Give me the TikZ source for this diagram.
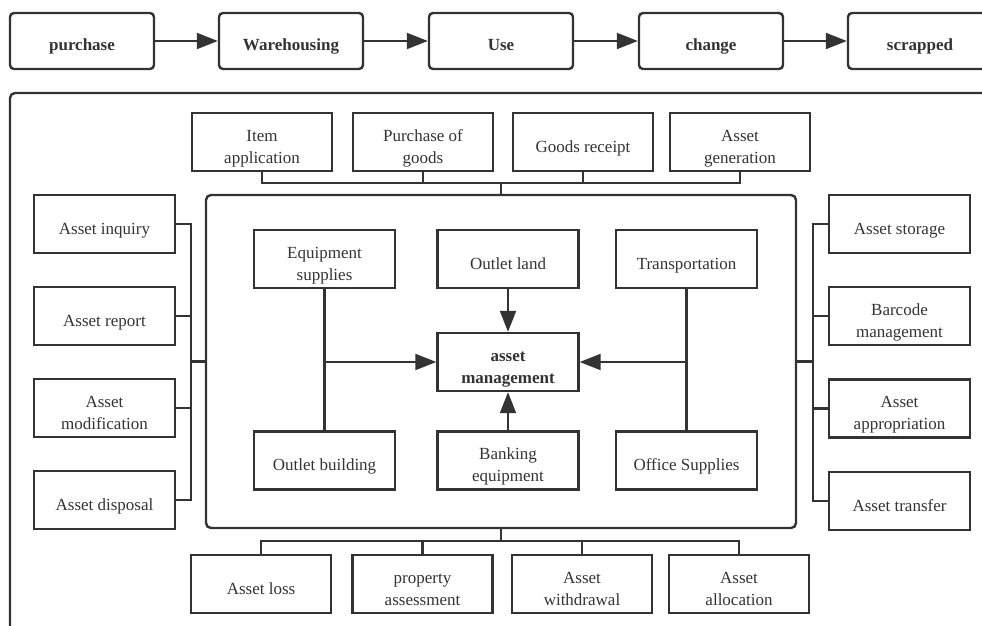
\documentclass[tikz,border=0pt]{standalone}
\usepackage{fontspec}
\setmainfont{Liberation Serif}
\usetikzlibrary{arrows.meta}
\definecolor{ink}{HTML}{333333}
\newcommand\hs{\rule{0pt}{24pt}}
\newcommand\ds{\rule[-4pt]{0pt}{4pt}}
\tikzset{
  box/.style={draw=ink, line width=2.4pt, minimum width=141pt, minimum height=58pt,
    inner sep=0pt, align=center, text=ink, font=\fontsize{17}{22}\selectfont},
  topbox/.style={box, rounded corners=4pt, minimum width=144pt, minimum height=56pt,
    font=\fontsize{17}{22}\selectfont\bfseries},
  link/.style={draw=ink, line width=2.2pt},
  arr/.style={link, -{Triangle[length=21pt,width=16pt]}}
}
\begin{document}
\begin{tikzpicture}[x=1pt,y=-1pt]
\useasboundingbox (0,0) rectangle (982,626);
\clip (0,0) rectangle (982,626);
% top process row
\node[topbox] (pur) at (82,41) {\hs purchase\ds};
\node[topbox] (war) at (291,41) {\hs Warehousing\ds};
\node[topbox] (use) at (501,41) {\hs Use\ds};
\node[topbox] (chg) at (711,41) {\hs change\ds};
\node[topbox] (scr) at (920,41) {\hs scrapped\ds};
\draw[arr] (pur) -- (war);
\draw[arr] (war) -- (use);
\draw[arr] (use) -- (chg);
\draw[arr] (chg) -- (scr);
% outer frame (partially outside the picture)
\draw[draw=ink, line width=2.4pt, rounded corners=5pt] (10,640) -- (10,93) -- (1000,93);
% inner frame
\node[draw=ink, line width=2.4pt, rounded corners=5pt, minimum width=590pt, minimum height=333pt, inner sep=0pt] (inner) at (501,361.5) {};
% top row
\node[box, minimum width=140pt] (itm) at (262,142) {\hs Item\\application\ds};
\node[box, minimum width=140pt] (pog) at (423,142) {\hs Purchase of\\goods\ds};
\node[box, minimum width=140pt] (gr) at (583,142) {\hs Goods receipt\ds};
\node[box, minimum width=140pt] (gen) at (740,142) {\hs Asset\\generation\ds};
\coordinate (tb) at (501,183);
\draw[link] (itm.south) |- (tb);
\draw[link] (pog.south) |- (tb);
\draw[link] (gr.south) |- (tb);
\draw[link] (gen.south) |- (tb);
\draw[link] (tb) -- (inner.north);
% left column
\node[box] (inq) at (104.5,224) {\hs Asset inquiry\ds};
\node[box] (rep) at (104.5,316) {\hs Asset report\ds};
\node[box] (mod) at (104.5,408) {\hs Asset\\modification\ds};
\node[box] (dis) at (104.5,500) {\hs Asset disposal\ds};
\coordinate (lj) at (191,361.5);
\draw[link] (inq.east) -| (lj);
\draw[link] (rep.east) -| (lj);
\draw[link] (mod.east) -| (lj);
\draw[link] (dis.east) -| (lj);
\draw[link] (lj) -- (inner.west);
% right column
\node[box] (sto) at (899.5,224) {\hs Asset storage\ds};
\node[box] (bar) at (899.5,316) {\hs Barcode\\management\ds};
\node[box] (app) at (899.5,408.5) {\hs Asset\\appropriation\ds};
\node[box] (tra) at (899.5,501) {\hs Asset transfer\ds};
\coordinate (rj) at (813,361.5);
\draw[link] (sto.west) -| (rj);
\draw[link] (bar.west) -| (rj);
\draw[link] (app.west) -| (rj);
\draw[link] (tra.west) -| (rj);
\draw[link] (rj) -- (inner.east);
% bottom row
\node[box, minimum width=140pt] (los) at (261,584) {\hs Asset loss\ds};
\node[box, minimum width=140pt] (pas) at (422.5,584) {\hs property\\assessment\ds};
\node[box, minimum width=140pt] (wit) at (582,584) {\hs Asset\\withdrawal\ds};
\node[box, minimum width=140pt] (all) at (739,584) {\hs Asset\\allocation\ds};
\coordinate (bb) at (501,541);
\draw[link] (inner.south) -- (bb);
\draw[link] (bb) -| (los.north);
\draw[link] (bb) -| (pas.north);
\draw[link] (bb) -| (wit.north);
\draw[link] (bb) -| (all.north);
% inner content
\node[box] (eq) at (324.5,259) {\hs Equipment\\supplies\ds};
\node[box] (ol) at (508,259) {\hs Outlet land\ds};
\node[box] (tr) at (686.5,259) {\hs Transportation\ds};
\node[box, font=\fontsize{17}{22}\selectfont\bfseries] (am) at (508,362) {\hs asset\\management\ds};
\node[box] (ob) at (324.5,460.5) {\hs Outlet building\ds};
\node[box] (be) at (508,460.5) {\hs Banking\\equipment\ds};
\node[box] (os) at (686.5,460.5) {\hs Office Supplies\ds};
\draw[link] (eq.south) -- (ob.north);
\draw[link] (tr.south) -- (os.north);
\coordinate (ej) at (eq.south |- am.west);
\coordinate (tj) at (tr.south |- am.east);
\draw[arr] (ej) -- (am.west);
\draw[arr] (tj) -- (am.east);
\draw[arr] (ol.south) -- (am.north);
\draw[arr] (be.north) -- (am.south);
\end{tikzpicture}
\end{document}
